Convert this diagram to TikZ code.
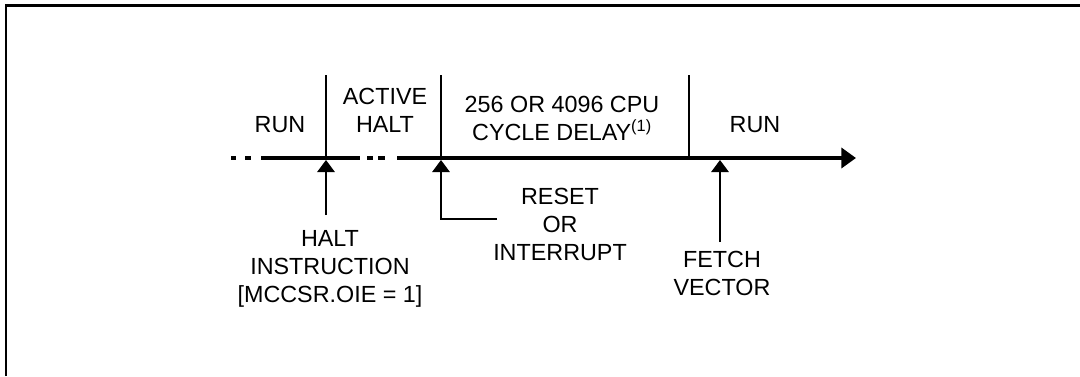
\documentclass[tikz,border=0pt]{standalone}
\usepackage{fontspec}
\setmainfont{Liberation Sans}
\usetikzlibrary{arrows.meta}

\tikzstyle{phase-label}=[align=center, inner sep=0pt, font=\fontsize{17.5}{21}\selectfont]
\tikzstyle{time-axis}=[line width=3pt]
\tikzstyle{phase-tick}=[line width=1.5pt]
\tikzstyle{event-arrow}=[line width=1.5pt, -{Triangle[width=13pt, length=9pt]}]
\definecolor{ink}{HTML}{000000}

\begin{document}
\begin{tikzpicture}[x=0.75pt, y=-0.75pt, draw=ink]
      \useasboundingbox (0, 0) rectangle (1080, 376);
      % frame
      \draw[line width=2pt] (6, 376) -- (6, 5.5) -- (1080, 5.5);

      % time axis
      \coordinate (axis-start) at (397, 158);
      \coordinate (axis-end) at (856, 158);
      \foreach \a/\b in {231/236, 245/251, 261/360, 367/373, 378/385}
            \draw[time-axis] (\a, 158) -- (\b, 158);
      \draw[time-axis, -{Triangle[width=15pt, length=11pt]}] (axis-start) -- (axis-end);

      % phase boundaries
      \coordinate (tick1) at (326, 75);
      \coordinate (tick2) at (441, 75);
      \coordinate (tick3) at (689, 75);
      \foreach \t in {tick1, tick2, tick3}
            \draw[phase-tick] (\t) -- (\t |- axis-end);

      % phases
      \node (run1) at (280, 125) [phase-label] {RUN};
      \node (active-halt) at (385, 110) [phase-label] {ACTIVE\\HALT};
      \node (delay) at (562, 118) [phase-label] {256 OR 4096 CPU\\CYCLE DELAY\textsuperscript{(1)}};
      \node (run2) at (755, 125) [phase-label] {RUN};

      % events
      \node (halt-instr) at (330, 269) [phase-label] {HALT\\INSTRUCTION\\{[}MCCSR.OIE = 1{]}};
      \node (reset-irq) at (560, 224) [phase-label] {RESET\\OR\\INTERRUPT};
      \node (fetch) at (722, 273) [phase-label] {FETCH\\VECTOR};

      \coordinate (halt-tail) at (326, 215);
      \coordinate (reset-tail) at (497, 219);
      \coordinate (fetch-tail) at (720, 242);
      \draw[event-arrow] (halt-tail) -- (halt-tail |- 0, 160);
      \draw[event-arrow] (reset-tail) -- (441, 219) -- (441, 160);
      \draw[event-arrow] (fetch-tail) -- (fetch-tail |- 0, 160);
\end{tikzpicture}
\end{document}
